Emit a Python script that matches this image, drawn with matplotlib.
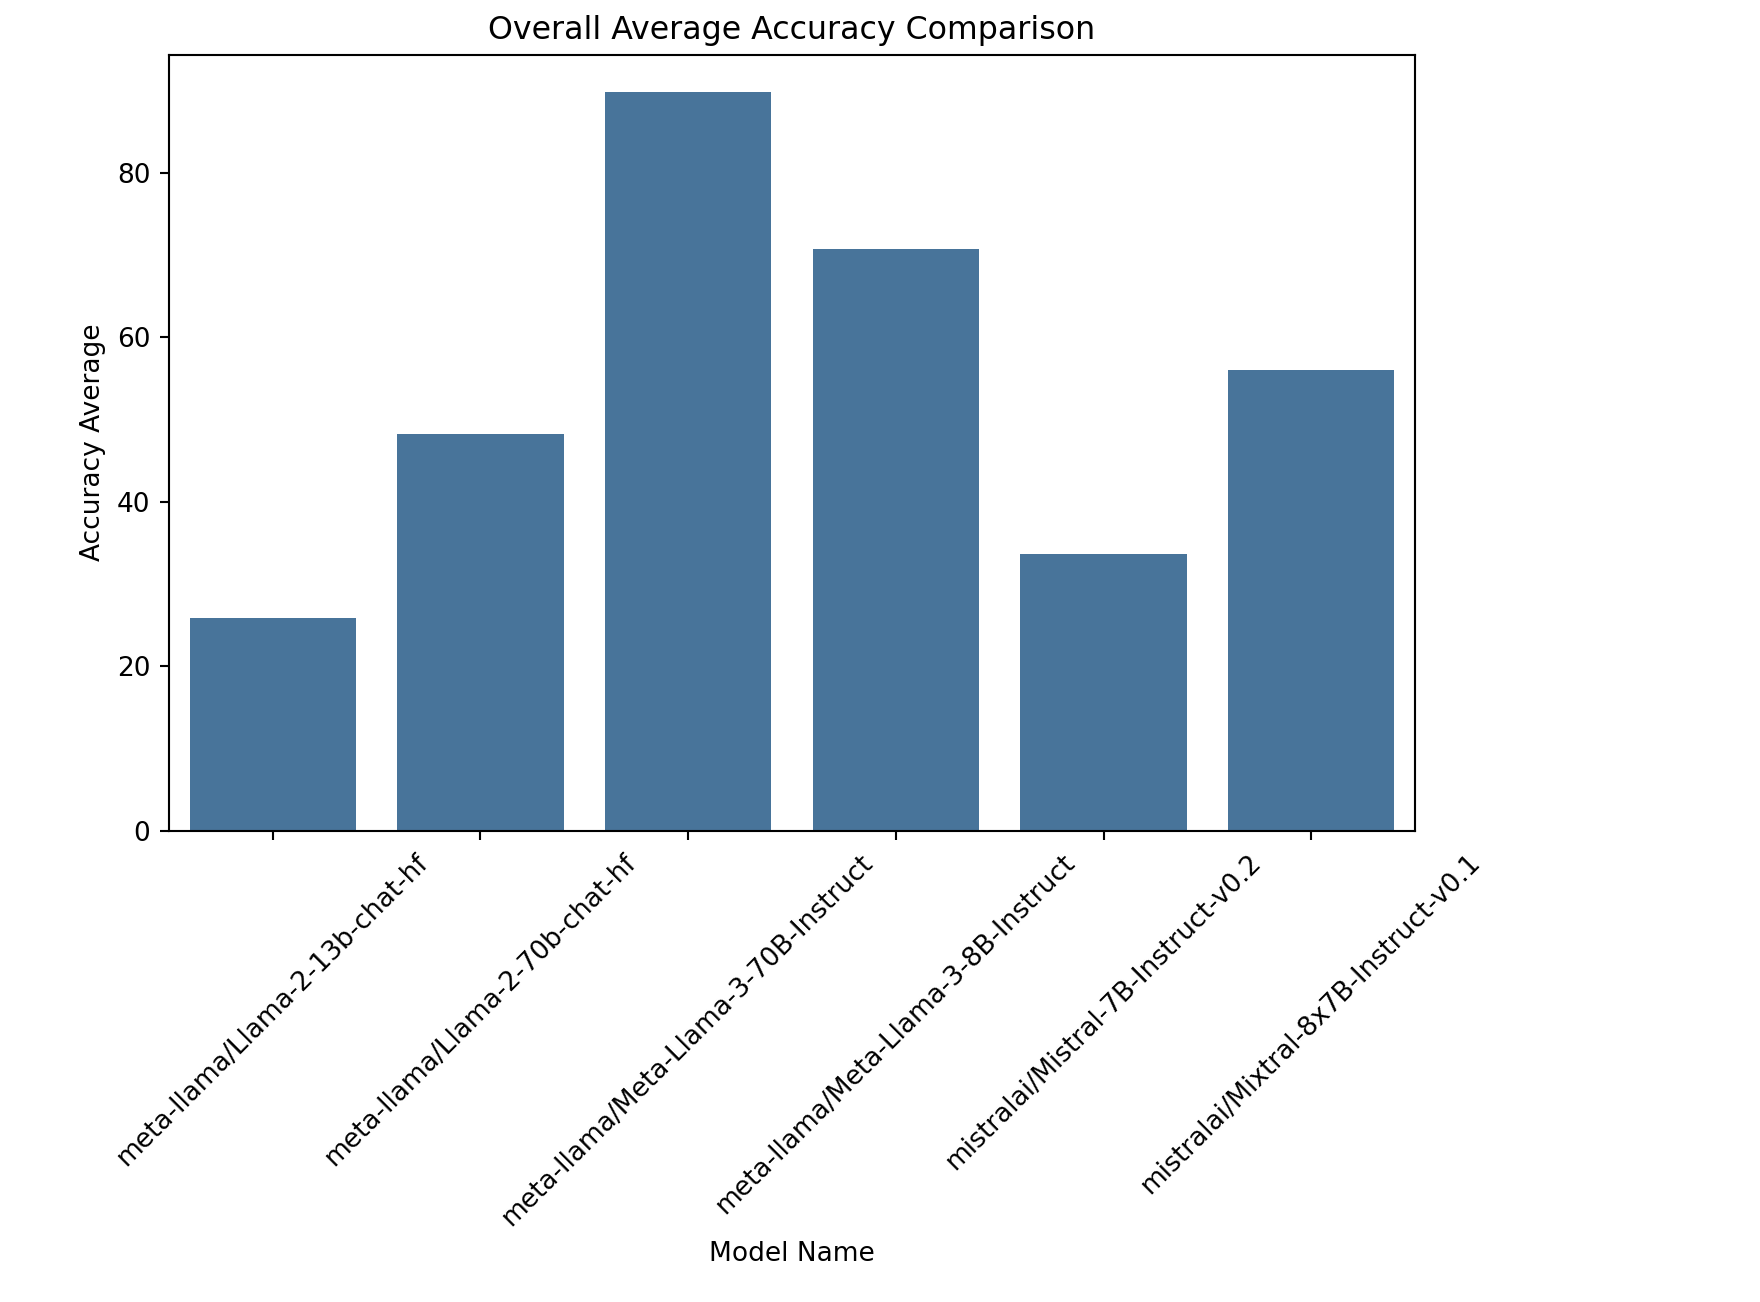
import matplotlib
matplotlib.use("Agg")
import matplotlib.pyplot as plt
import seaborn as sns

models = ["meta-llama/Llama-2-13b-chat-hf", "meta-llama/Llama-2-70b-chat-hf",
          "meta-llama/Meta-Llama-3-70B-Instruct", "meta-llama/Meta-Llama-3-8B-Instruct",
          "mistralai/Mistral-7B-Instruct-v0.2", "mistralai/Mixtral-8x7B-Instruct-v0.1"]
accuracy = [25.9, 48.2, 89.9, 70.8, 33.7, 56.0]

fig = plt.figure(figsize=(1760/190, 1302/190), dpi=190)
ax = fig.add_axes([0.096, 0.362, 0.708, 0.596])
sns.barplot(x=models, y=accuracy, color="#3a75a8", ax=ax, saturation=0.75)
ax.set_title("Overall Average Accuracy Comparison", fontsize=12)
ax.set_xlabel("Model Name")
ax.set_ylabel("Accuracy Average")
plt.setp(ax.get_xticklabels(), rotation=45)
fig.savefig("out.png")
